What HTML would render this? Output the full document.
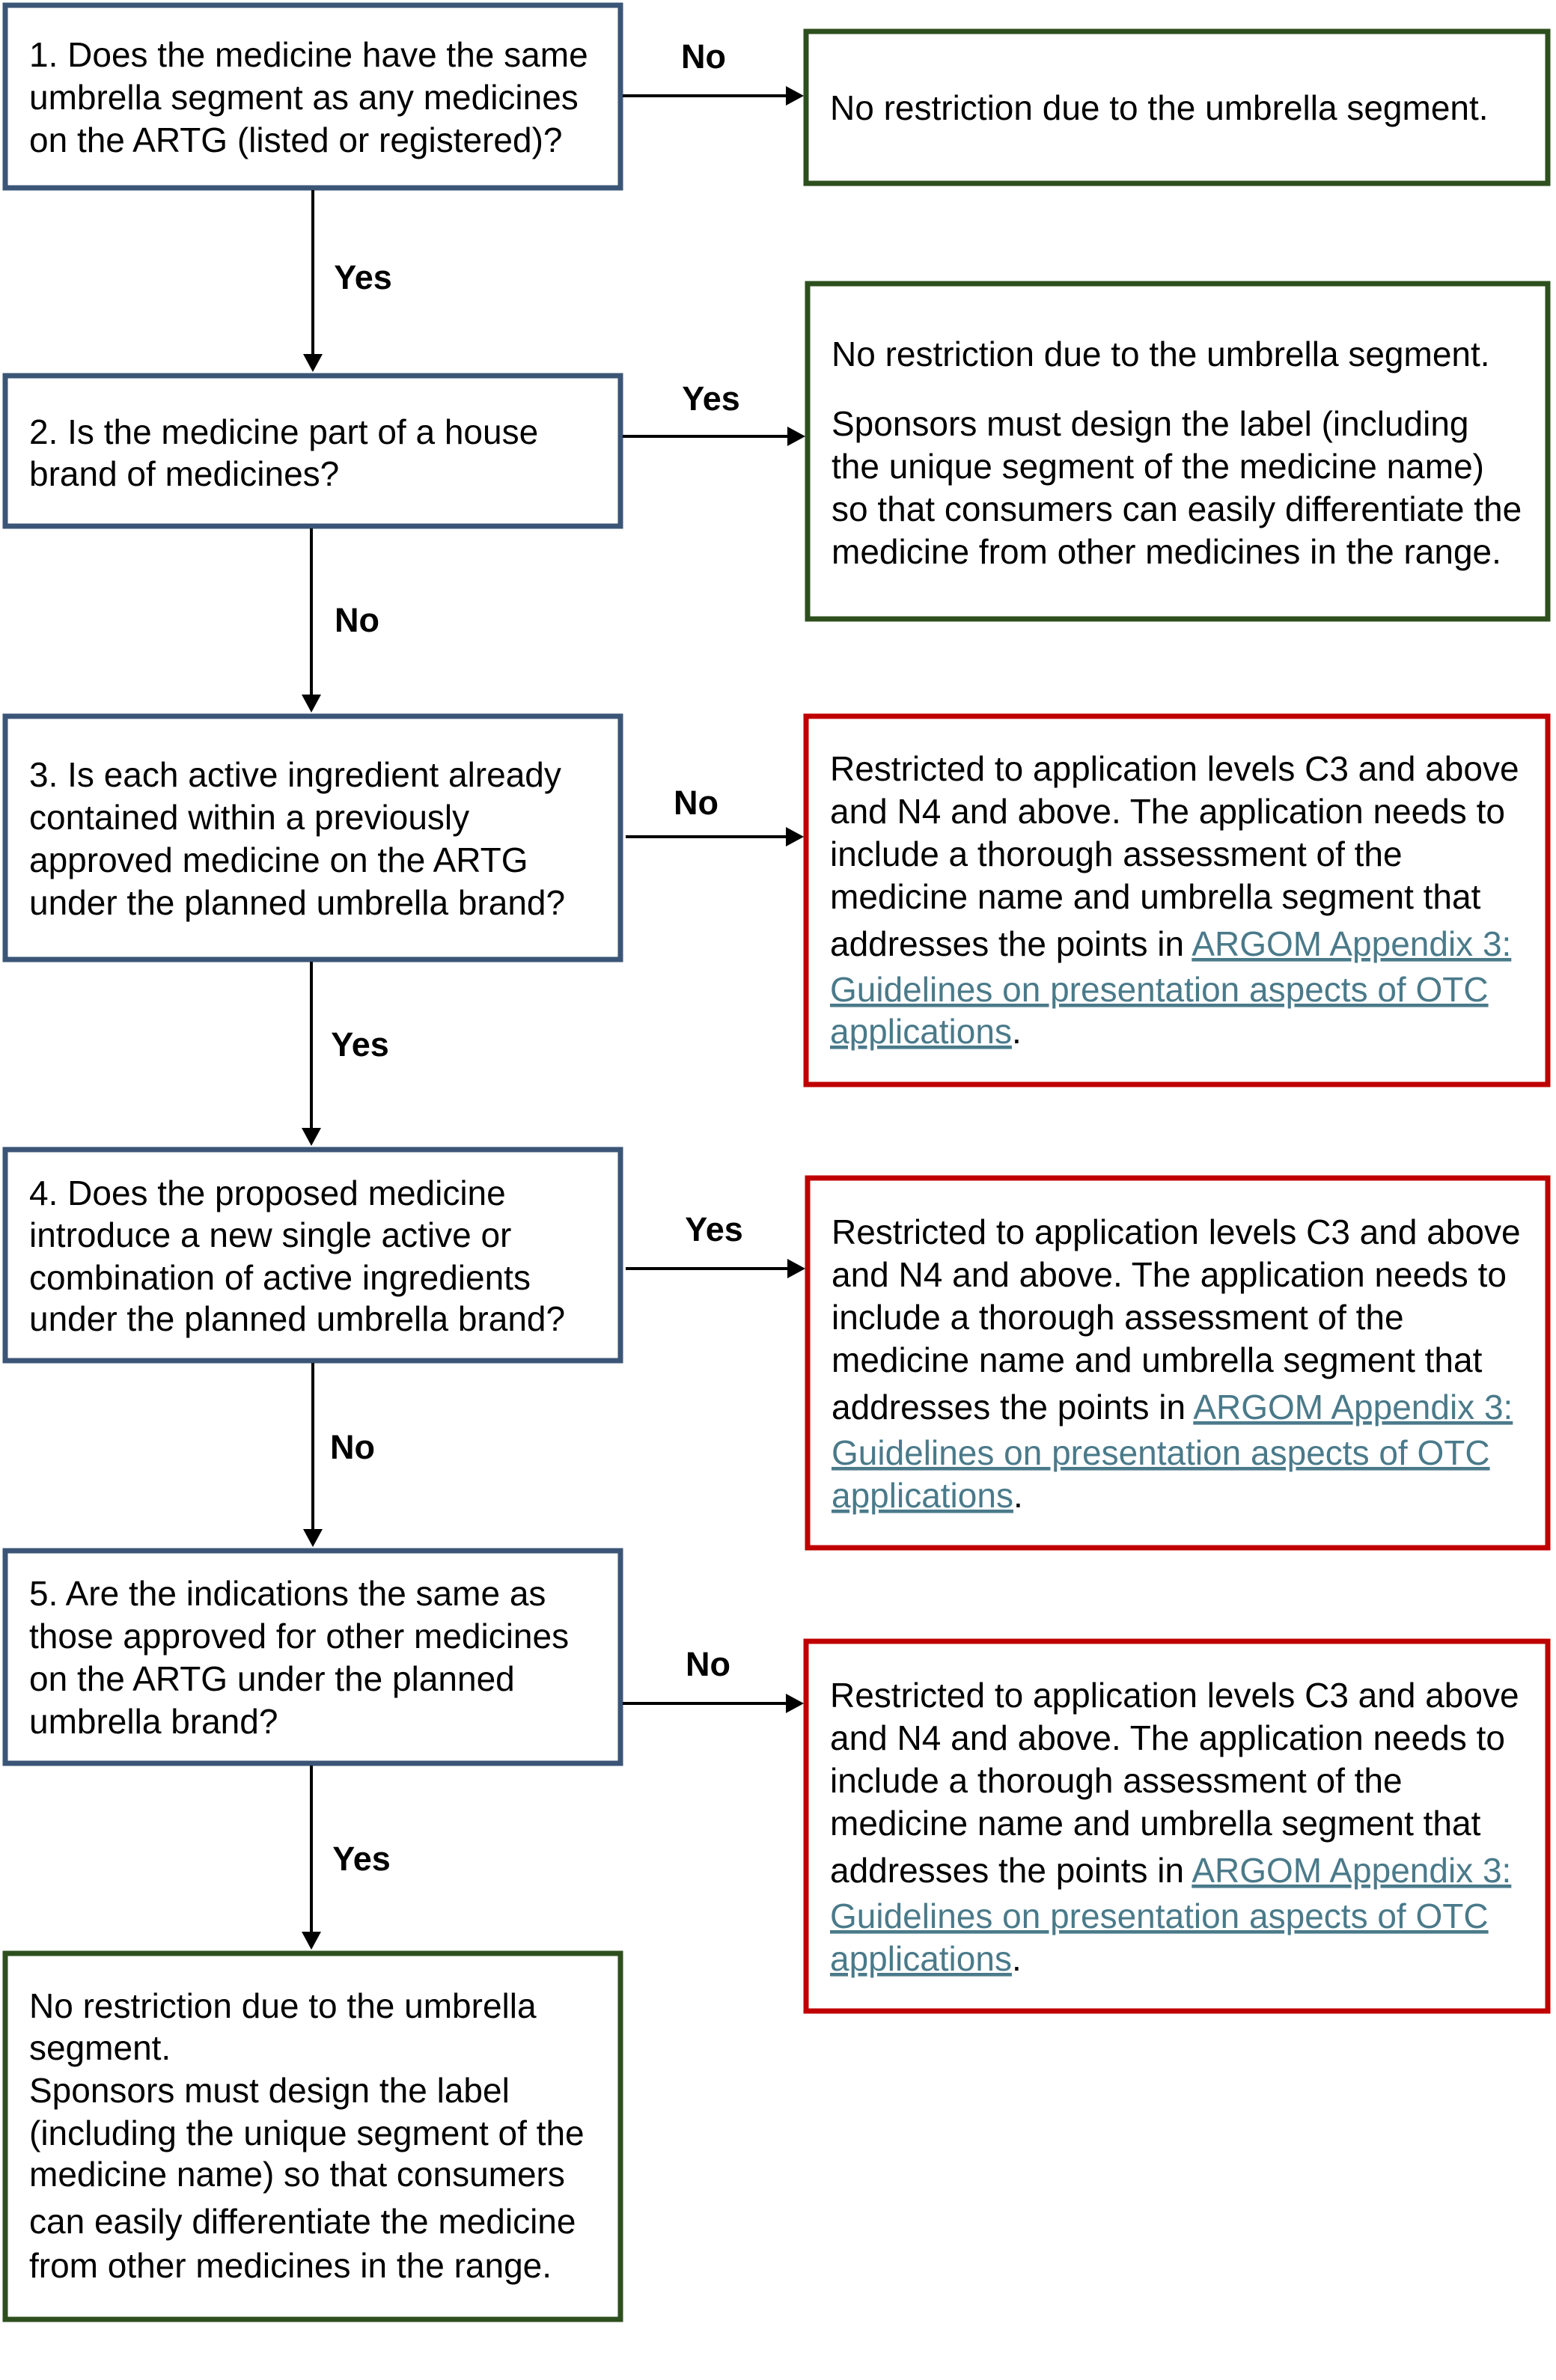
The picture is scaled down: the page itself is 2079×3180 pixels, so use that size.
<!DOCTYPE html>
<html><head><meta charset="utf-8"><style>
html,body{margin:0;padding:0;background:#fff}
svg{display:block}
text{font-family:"Liberation Sans",Arial,sans-serif;font-size:46px;fill:#000}
.l{font-weight:bold;text-anchor:middle;font-size:45px}
.k{fill:#4a7a8a;text-decoration:underline}
</style></head><body>
<svg width="2079" height="3180" viewBox="0 0 2079 3180" xmlns="http://www.w3.org/2000/svg">
<g fill="none" stroke-width="7">
<rect x="7" y="7" width="822" height="244" stroke="#3b5577"/>
<rect x="1077" y="42" width="991" height="203" stroke="#2d4f1e"/>
<rect x="7" y="502" width="822" height="201" stroke="#3b5577"/>
<rect x="1079" y="379" width="989" height="448" stroke="#2d4f1e"/>
<rect x="7" y="957" width="822" height="325" stroke="#3b5577"/>
<rect x="1077" y="957" width="991" height="492" stroke="#c00000"/>
<rect x="7" y="1536" width="822" height="282" stroke="#3b5577"/>
<rect x="1079" y="1574" width="989" height="494" stroke="#c00000"/>
<rect x="7" y="2072" width="822" height="284" stroke="#3b5577"/>
<rect x="1077" y="2193" width="991" height="494" stroke="#c00000"/>
<rect x="7" y="2610" width="822" height="489" stroke="#2d4f1e"/>
</g>
<g stroke="#000" stroke-width="4">
<line x1="832" y1="128" x2="1054" y2="128"/>
<line x1="832" y1="583" x2="1056" y2="583"/>
<line x1="836" y1="1118" x2="1054" y2="1118"/>
<line x1="836" y1="1695" x2="1056" y2="1695"/>
<line x1="832" y1="2276" x2="1054" y2="2276"/>
<line x1="418" y1="254" x2="418" y2="477"/>
<line x1="416" y1="706" x2="416" y2="932"/>
<line x1="416" y1="1285" x2="416" y2="1511"/>
<line x1="418" y1="1821" x2="418" y2="2047"/>
<line x1="416" y1="2359" x2="416" y2="2585"/>
</g>
<g fill="#000">
<polygon points="1074,128 1050,115 1050,141"/>
<polygon points="1076,583 1052,570 1052,596"/>
<polygon points="1074,1118 1050,1105 1050,1131"/>
<polygon points="1076,1695 1052,1682 1052,1708"/>
<polygon points="1074,2276 1050,2263 1050,2289"/>
<polygon points="418,497 405,473 431,473"/>
<polygon points="416,952 403,928 429,928"/>
<polygon points="416,1531 403,1507 429,1507"/>
<polygon points="418,2067 405,2043 431,2043"/>
<polygon points="416,2605 403,2581 429,2581"/>
</g>
<text class="l" x="940" y="91">No</text>
<text class="l" x="485" y="386">Yes</text>
<text class="l" x="950" y="548">Yes</text>
<text class="l" x="477" y="844">No</text>
<text class="l" x="930" y="1088">No</text>
<text class="l" x="481" y="1411">Yes</text>
<text class="l" x="954" y="1658">Yes</text>
<text class="l" x="471" y="1949">No</text>
<text class="l" x="946" y="2239">No</text>
<text class="l" x="483" y="2499">Yes</text>

<text x="39" y="89">1. Does the medicine have the same</text>
<text x="39" y="146">umbrella segment as any medicines</text>
<text x="39" y="203">on the ARTG (listed or registered)?</text>
<text x="1109" y="160">No restriction due to the umbrella segment.</text>

<text x="39" y="593">2. Is the medicine part of a house</text>
<text x="39" y="649">brand of medicines?</text>
<text x="1111" y="489">No restriction due to the umbrella segment.</text>
<text x="1111" y="582">Sponsors must design the label (including</text>
<text x="1111" y="639">the unique segment of the medicine name)</text>
<text x="1111" y="696">so that consumers can easily differentiate the</text>
<text x="1111" y="753">medicine from other medicines in the range.</text>

<text x="39" y="1051">3. Is each active ingredient already</text>
<text x="39" y="1108">contained within a previously</text>
<text x="39" y="1165">approved medicine on the ARTG</text>
<text x="39" y="1222">under the planned umbrella brand?</text>
<text x="1109" y="1043">Restricted to application levels C3 and above</text>
<text x="1109" y="1100">and N4 and above. The application needs to</text>
<text x="1109" y="1157">include a thorough assessment of the</text>
<text x="1109" y="1214">medicine name and umbrella segment that</text>
<text x="1109" y="1277">addresses the points in <tspan class="k">ARGOM Appendix 3:</tspan></text>
<text x="1109" y="1338" class="k">Guidelines on presentation aspects of OTC</text>
<text x="1109" y="1394"><tspan class="k">applications</tspan>.</text>

<text x="39" y="1610">4. Does the proposed medicine</text>
<text x="39" y="1666">introduce a new single active or</text>
<text x="39" y="1723">combination of active ingredients</text>
<text x="39" y="1778">under the planned umbrella brand?</text>
<text x="1111" y="1662">Restricted to application levels C3 and above</text>
<text x="1111" y="1719">and N4 and above. The application needs to</text>
<text x="1111" y="1776">include a thorough assessment of the</text>
<text x="1111" y="1833">medicine name and umbrella segment that</text>
<text x="1111" y="1896">addresses the points in <tspan class="k">ARGOM Appendix 3:</tspan></text>
<text x="1111" y="1957" class="k">Guidelines on presentation aspects of OTC</text>
<text x="1111" y="2014"><tspan class="k">applications</tspan>.</text>

<text x="39" y="2145">5. Are the indications the same as</text>
<text x="39" y="2202">those approved for other medicines</text>
<text x="39" y="2259">on the ARTG under the planned</text>
<text x="39" y="2316">umbrella brand?</text>
<text x="1109" y="2281">Restricted to application levels C3 and above</text>
<text x="1109" y="2338">and N4 and above. The application needs to</text>
<text x="1109" y="2395">include a thorough assessment of the</text>
<text x="1109" y="2452">medicine name and umbrella segment that</text>
<text x="1109" y="2515">addresses the points in <tspan class="k">ARGOM Appendix 3:</tspan></text>
<text x="1109" y="2576" class="k">Guidelines on presentation aspects of OTC</text>
<text x="1109" y="2633"><tspan class="k">applications</tspan>.</text>

<text x="39" y="2696">No restriction due to the umbrella</text>
<text x="39" y="2752">segment.</text>
<text x="39" y="2809">Sponsors must design the label</text>
<text x="39" y="2866">(including the unique segment of the</text>
<text x="39" y="2921">medicine name) so that consumers</text>
<text x="39" y="2984">can easily differentiate the medicine</text>
<text x="39" y="3043">from other medicines in the range.</text>
</svg>
</body></html>
